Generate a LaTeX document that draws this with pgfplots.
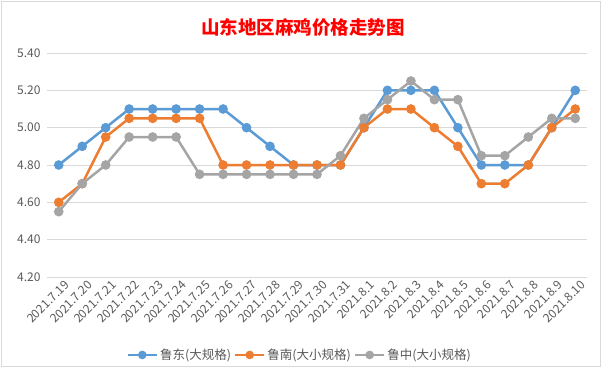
\documentclass[border=0pt]{standalone}
\usepackage{fontspec}
\setmainfont{Noto Sans CJK SC}
\usepackage{pgfplots}
\pgfplotsset{compat=1.18}
\definecolor{cblue}{HTML}{5B9BD5}
\definecolor{corange}{HTML}{ED7D31}
\definecolor{cgray}{HTML}{A5A5A5}
\definecolor{ctext}{HTML}{595959}
\definecolor{cgrid}{HTML}{D9D9D9}
\begin{document}
\begin{tikzpicture}
\path[use as bounding box] (0pt,0pt) rectangle (606pt,-377pt);
\draw[cgrid] (1.5pt,-1pt) rectangle (600pt,-366pt);
\node[text=red, font=\fontsize{18.5}{20}\selectfont\bfseries] at (303pt,-27pt) {山东地区麻鸡价格走势图};
\begin{axis}[
  at={(47pt,-277pt)}, anchor=south west,
  scale only axis, width=540pt, height=224pt,
  xmin=-0.5, xmax=22.5, ymin=4.2, ymax=5.4,
  xtick={0,...,22},
  xticklabels={2021.7.19,2021.7.20,2021.7.21,2021.7.22,2021.7.23,2021.7.24,2021.7.25,2021.7.26,2021.7.27,2021.7.28,2021.7.29,2021.7.30,2021.7.31,2021.8.1,2021.8.2,2021.8.3,2021.8.4,2021.8.5,2021.8.6,2021.8.7,2021.8.8,2021.8.9,2021.8.10},
  ytick={4.2,4.4,...,5.41},
  /pgf/number format/fixed, /pgf/number format/fixed zerofill, /pgf/number format/precision=2, /pgf/number format/assume math mode=true,
  yticklabel style={text=ctext, font=\fontsize{12}{12}\selectfont, xshift=-3pt},
  xticklabel style={text=ctext, font=\fontsize{12}{12}\selectfont, rotate=45, anchor=east, xshift=5pt, yshift=-10pt},
  axis line style={draw=none},
  major tick style={draw=none},
  ymajorgrids, grid style={cgrid, line width=0.8pt},
  legend columns=3,
  legend style={draw=none, at={(0.468,-0.348)}, anchor=center, font=\fontsize{12.5}{13}\selectfont, text=ctext, inner xsep=0pt, /tikz/every even column/.append style={column sep=1pt}},
  legend image code/.code={\draw[#1] (0pt,0pt) -- (29pt,0pt); \draw[#1, mark size=3pt, mark repeat=1] plot coordinates {(14.5pt,0pt)};},
  every axis plot/.append style={line width=2.5pt, mark=*, mark size=3.5pt, mark options={solid}},
]
\addplot[cblue, mark options={fill=cblue}] coordinates {
(0,4.8)(1,4.9)(2,5.0)(3,5.1)(4,5.1)(5,5.1)(6,5.1)(7,5.1)(8,5.0)(9,4.9)(10,4.8)(11,4.8)(12,4.8)
(13,5.0)(14,5.2)(15,5.2)(16,5.2)(17,5.0)(18,4.8)(19,4.8)(20,4.8)(21,5.0)(22,5.2)};
\addlegendentry{鲁东(大规格)}
\addplot[corange, mark options={fill=corange}] coordinates {
(0,4.6)(1,4.7)(2,4.95)(3,5.05)(4,5.05)(5,5.05)(6,5.05)(7,4.8)(8,4.8)(9,4.8)(10,4.8)(11,4.8)(12,4.8)
(13,5.0)(14,5.1)(15,5.1)(16,5.0)(17,4.9)(18,4.7)(19,4.7)(20,4.8)(21,5.0)(22,5.1)};
\addlegendentry{鲁南(大小规格)}
\addplot[cgray, mark options={fill=cgray}] coordinates {
(0,4.55)(1,4.7)(2,4.8)(3,4.95)(4,4.95)(5,4.95)(6,4.75)(7,4.75)(8,4.75)(9,4.75)(10,4.75)(11,4.75)(12,4.85)
(13,5.05)(14,5.15)(15,5.25)(16,5.15)(17,5.15)(18,4.85)(19,4.85)(20,4.95)(21,5.05)(22,5.05)};
\addlegendentry{鲁中(大小规格)}
\end{axis}
\end{tikzpicture}
\end{document}
